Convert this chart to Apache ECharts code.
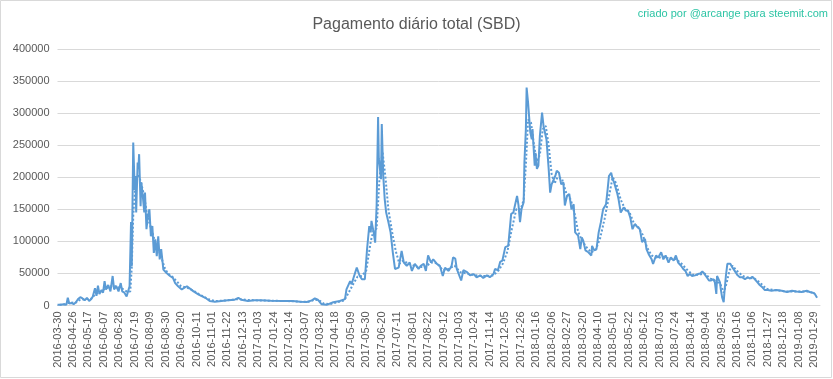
<!DOCTYPE html>
<html>
<head>
<meta charset="utf-8">
<script src="https://cdn.jsdelivr.net/npm/echarts@6/dist/echarts.min.js"></script>
<style>html,body{margin:0;padding:0;background:#fff}#c{width:833px;height:379px}</style>
</head>
<body>
<div id="c"></div>
<script>
// X tick labels: every 21st day-category, starting at category 0
const tickLabels = ['2016-03-30','2016-04-26','2016-05-17','2016-06-07','2016-06-28','2016-07-19','2016-08-09','2016-08-30','2016-09-20','2016-10-11','2016-11-01','2016-11-22','2016-12-13','2017-01-03','2017-01-24','2017-02-14','2017-03-07','2017-03-28','2017-04-18','2017-05-09','2017-05-30','2017-06-20','2017-07-11','2017-08-01','2017-08-22','2017-09-12','2017-10-03','2017-10-24','2017-11-14','2017-12-05','2017-12-26','2018-01-16','2018-02-06','2018-02-27','2018-03-20','2018-04-10','2018-05-01','2018-05-22','2018-06-12','2018-07-03','2018-07-24','2018-08-14','2018-09-04','2018-09-25','2018-10-16','2018-11-06','2018-11-27','2018-12-18','2019-01-08','2019-01-29'];

// Daily payout (SBD), sampled by day-category index
const payoutDays = [0,4,8,12,14,16,19,22,25,28,31,34,37,40,43,46,48,51,53,55,57,60,62,64,66,69,72,75,77,80,83,86,88,91,94,96,98,100,101,103,105,106,107,109,110,111,113,114,116,118,119,121,123,125,127,129,131,133,135,137,139,141,144,148,153,157,160,164,169,176,178,185,192,201,207,214,223,232,241,246,250,259,268,
276,290,307,320,330,339,341,346,350,354,359,366,375,384,391,393,398,400,402,407,411,414,418,421,424,426,427,430,432,434,436,437,440,441,443,445,447,450,453,456,459,464,468,471,475,479,482,486,491,494,498,501,504,508,511,516,520,524,527,532,536,538,
541,543,545,549,552,557,561,566,570,575,579,584,588,593,595,599,602,605,609,613,617,620,625,627,629,631,634,635,637,638,640,643,645,646,649,650,652,654,656,659,661,663,665,668,670,672,674,677,679,682,685,688,690,693,696,699,702,704,708,711,713,715,718,722,726,727,730,733,736,739,742,746,748,750,753,755,757,761,763,766,770,773,776,779,782,785,789,792,795,
799,801,804,808,810,814,817,821,824,827,831,834,838,841,844,848,851,854,857,860,863,867,871,874,877,880,883,886,889,892,894,896,897,899,901,902,904,906,907,909,911,912,915,918,921,925,928,931,935,939,942,945,949,952,955,959,962,966,971,978,985,992,999,1005,1012,1019,1023,1027,1030,1033];
const payoutValues = [1000,1000,2000,1000,12000,3000,4000,2000,5000,10000,13000,11000,8000,12000,7000,10000,14000,27000,15000,31000,18000,24000,20000,38000,25000,32000,22000,46000,25000,30000,22000,35000,22000,20000,14000,17000,30000,130000,61000,254000,180000,202000,145000,223000,213000,236000,155000,192000,171000,145000,176000,119000,140000,150000,108000,124000,82000,103000,77000,108000,72000,88000,56000,51000,46000,43000,35000,30000,25000,30000,28000,22000,17000,12000,7000,6000,7000,8000,9000,12000,9000,7000,8000,
8000,7500,7000,7000,6000,5500,4000,8000,11000,9000,2000,1000,5000,7000,10000,25000,38000,33000,41000,59000,46000,41000,41000,88000,124000,114000,132000,114000,98000,156000,294000,229000,197000,283000,203000,166000,145000,130000,114000,83000,57000,59000,85000,67000,62000,67000,54000,65000,57000,62000,65000,54000,78000,67000,72000,65000,62000,46000,59000,54000,62000,75000,
73000,57000,60000,39000,55000,52000,47000,49000,44000,47000,43000,47000,44000,49000,57000,55000,68000,70000,91000,93000,143000,145000,171000,156000,130000,150000,161000,223000,275000,340000,316000,270000,259000,275000,218000,238000,213000,218000,264000,301000,280000,277000,259000,213000,176000,189000,187000,202000,210000,207000,189000,192000,156000,171000,174000,150000,158000,114000,109000,88000,106000,101000,86000,83000,78000,93000,86000,88000,114000,130000,150000,158000,179000,202000,207000,197000,192000,176000,166000,145000,153000,148000,148000,137000,119000,127000,122000,119000,99000,
104000,88000,80000,72000,65000,78000,75000,83000,72000,78000,67000,75000,70000,78000,67000,62000,57000,54000,46000,49000,46000,47000,49000,50000,53000,49000,44000,39000,39000,41000,36000,18000,46000,44000,36000,26000,12000,5000,20000,46000,65000,67000,65000,59000,54000,47000,44000,44000,41000,44000,42000,45000,40000,36000,32000,28000,24000,24000,23000,24000,23000,21000,23000,22000,21000,23000,21000,20000,18000,12000];

// Dotted trend line (moving average)
const trendDays = [3,10,17,24,31,38,45,52,59,66,73,80,87,94,99,101,103,106,110,114,118,122,126,130,134,138,142,146,150,156,162,168,176,185,192,200,207,215,230,246,255,270,290,310,330,342,350,356,362,370,380,390,396,402,408,414,420,426,430,434,438,442,446,450,455,460,465,470,478,490,500,508,516,524,532,540,548,556,565,575,585,593,600,606,612,618,624,630,634,637,640,644,648,652,656,660,664,668,672,676,680,686,692,698,704,708,714,720,726,732,738,744,750,755,760,766,772,778,784,790,796,802,808,816,824,832,840,848,856,864,872,880,888,896,902,906,910,914,918,924,932,940,948,956,964,975,990,1005,1020,1030];
const trendValues = [1000,2000,5000,4000,9000,10000,10000,18000,22000,27000,30000,30000,27000,22000,22000,60000,140000,190000,205000,190000,170000,140000,125000,110000,95000,85000,72000,58000,50000,45000,38000,30000,28000,23000,18000,13000,9000,7000,8000,10000,9000,8000,7500,7000,6000,6000,9000,8000,3000,2000,5000,8000,20000,33000,45000,46000,55000,100000,118000,120000,200000,240000,200000,150000,115000,85000,65000,70000,65000,60000,60000,67000,66000,55000,57000,62000,52000,50000,48000,46000,46000,47000,55000,66000,85000,120000,150000,150000,165000,220000,290000,285000,250000,225000,235000,275000,280000,250000,205000,190000,200000,198000,175000,165000,140000,115000,100000,90000,83000,87000,105000,135000,170000,200000,190000,165000,150000,145000,128000,122000,110000,90000,78000,74000,76000,73000,73000,66000,56000,48000,48000,50000,42000,38000,32000,20000,35000,55000,62000,54000,46000,43000,42000,35000,26000,24000,22000,22000,22000,19000];

const yTicks = [0,50000,100000,150000,200000,250000,300000,350000,400000];

const FONT = 'Liberation Sans';
const chart = echarts.init(document.getElementById('c'), null, {renderer: 'canvas'});
chart.setOption({
  animation: false,
  backgroundColor: '#ffffff',
  title: {
    text: 'Pagamento diário total (SBD)',
    left: 'center',
    top: 12,
    textStyle: {fontFamily: FONT, fontSize: 16, fontWeight: 'normal', color: '#595959'}
  },
  graphic: [
    {type: 'rect', shape: {x: 0.5, y: 0.5, width: 831, height: 377}, style: {fill: 'none', stroke: '#d9d9d9', lineWidth: 1}, silent: true},
    {type: 'text', right: 5, top: 8, style: {text: 'criado por @arcange para steemit.com', fill: '#2cc4a4', fontFamily: FONT, fontSize: 11}}
  ],
  grid: {left: 57.5, right: 13, top: 49, bottom: 73.5, containLabel: false},
  xAxis: {
    type: 'value',
    min: 0,
    max: 1037,
    interval: 21,
    axisLine: {show: true, lineStyle: {color: '#d9d9d9'}},
    axisTick: {show: false},
    splitLine: {show: false},
    axisLabel: {
      rotate: 90,
      margin: 6,
      fontFamily: FONT,
      fontSize: 11,
      color: '#595959',
      showMinLabel: true,
      showMaxLabel: false,
      formatter: function (v) {
        const k = v / 21;
        return (Number.isInteger(k) && tickLabels[k]) ? tickLabels[k] : '';
      }
    }
  },
  yAxis: {
    type: 'value',
    min: yTicks[0],
    max: yTicks[yTicks.length - 1],
    interval: yTicks[1] - yTicks[0],
    axisLine: {show: false},
    axisTick: {show: false},
    splitLine: {lineStyle: {color: '#d9d9d9', width: 1}},
    axisLabel: {margin: 8, fontFamily: FONT, fontSize: 11, color: '#595959', formatter: v => String(v)}
  },
  series: [
    {
      type: 'line',
      data: trendDays.map((d, i) => [d, trendValues[i]]),
      showSymbol: false,
      lineStyle: {color: '#5b9bd5', width: 2, type: [2, 2]},
      z: 2
    },
    {
      type: 'line',
      data: payoutDays.map((d, i) => [d, payoutValues[i]]),
      showSymbol: false,
      lineStyle: {color: '#5b9bd5', width: 2},
      z: 3
    }
  ]
});
</script>
</body>
</html>
